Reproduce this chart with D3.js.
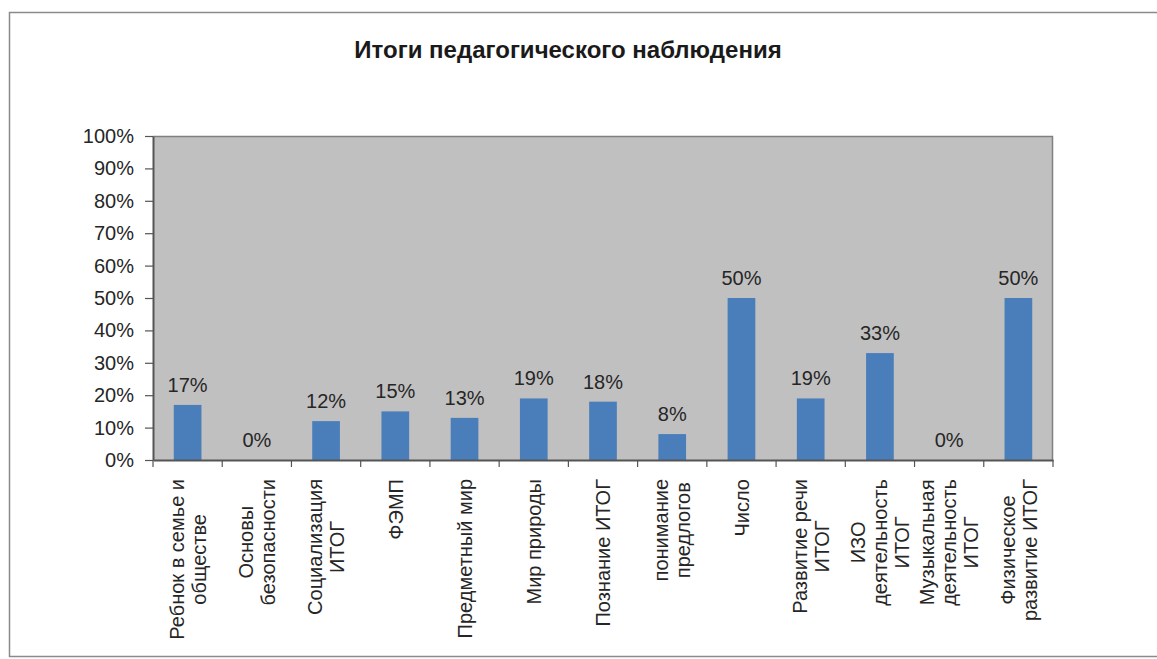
<!DOCTYPE html>
<html>
<head>
<meta charset="utf-8">
<script src="https://cdn.jsdelivr.net/npm/d3@7/dist/d3.min.js"></script>
<style>
  html, body { margin: 0; padding: 0; background: #fff; }
  svg { display: block; }
  text { font-family: "Liberation Sans", Arial, sans-serif; fill: #262626; }
</style>
</head>
<body>
<svg id="chart" width="1157" height="659"></svg>
<script>
const title = "Итоги педагогического наблюдения";
const categories = [
  ["Ребнок в семье и", "обществе"],
  ["Основы", "безопасности"],
  ["Социализация", "ИТОГ"],
  ["ФЭМП"],
  ["Предметный мир"],
  ["Мир природы"],
  ["Познание ИТОГ"],
  ["понимание", "предлогов"],
  ["Число"],
  ["Развитие речи", "ИТОГ"],
  ["ИЗО", "деятельность", "ИТОГ"],
  ["Музыкальная", "деятельность", "ИТОГ"],
  ["Физическое", "развитие ИТОГ"]
];
const values = [0.17, 0.00, 0.12, 0.15, 0.13, 0.19, 0.18, 0.08, 0.50, 0.19, 0.33, 0.00, 0.50];
const yTicks = [0, 0.1, 0.2, 0.3, 0.4, 0.5, 0.6, 0.7, 0.8, 0.9, 1.0];

const svg = d3.select("#chart");
const plot = { left: 153, right: 1053, top: 136, bottom: 460 };
const fs = "20px";

// Outer frame
svg.append("rect")
  .attr("x", 9.5).attr("y", 12.5)
  .attr("width", 1170).attr("height", 644)
  .attr("fill", "#fff").attr("stroke", "#8a8a8a").attr("stroke-width", 1.5);

// Title
svg.append("text")
  .attr("x", 568).attr("y", 58)
  .attr("text-anchor", "middle")
  .style("font-size", "24px").style("font-weight", "bold")
  .style("fill", "#1a1a1a")
  .text(title);

const x = d3.scaleBand()
  .domain(d3.range(categories.length))
  .range([plot.left, plot.right])
  .padding(0);

const y = d3.scaleLinear()
  .domain([0, 1])
  .range([plot.bottom, plot.top]);

// Plot area background
svg.append("rect")
  .attr("x", plot.left).attr("y", plot.top)
  .attr("width", plot.right - plot.left).attr("height", plot.bottom - plot.top)
  .attr("fill", "#c0c0c0");

// Plot border top & right
svg.append("path")
  .attr("d", `M${plot.left},${plot.top + 0.5}H${plot.right - 0.5}V${plot.bottom}`)
  .attr("fill", "none").attr("stroke", "#808080").attr("stroke-width", 1.5);

// Bars
const bw = x.bandwidth() * 0.4;
svg.append("g").selectAll("rect")
  .data(values)
  .join("rect")
  .attr("x", (d, i) => x(i) + x.bandwidth() / 2 - bw / 2)
  .attr("y", d => y(d))
  .attr("width", bw)
  .attr("height", d => y(0) - y(d))
  .attr("fill", "#4a7ebb");

// Y axis
const yAxis = svg.append("g")
  .attr("transform", `translate(${plot.left},0)`)
  .call(d3.axisLeft(y).tickValues(yTicks).tickFormat(d3.format(".0%")).tickSize(8).tickSizeOuter(0).tickPadding(11));
yAxis.select(".domain").attr("stroke", "#555").attr("stroke-width", 2);
yAxis.selectAll(".tick line").attr("stroke", "#555").attr("stroke-width", 1.2);
yAxis.selectAll(".tick text")
  .style("font-size", fs).style("font-family", "'Liberation Sans', Arial, sans-serif")
  .attr("fill", "#262626");

// X axis line
const xAxis = svg.append("g")
  .attr("transform", `translate(0,${plot.bottom})`)
  .call(d3.axisBottom(x).tickSize(0).tickFormat(() => "").tickSizeOuter(0));
xAxis.select(".domain").attr("stroke", "#555").attr("stroke-width", 2);
xAxis.selectAll(".tick").remove();

// Boundary ticks
const bounds = d3.range(categories.length).map(i => x(i)).concat([plot.right]);
svg.append("g").selectAll("line")
  .data(bounds)
  .join("line")
  .attr("x1", d => d).attr("x2", d => d)
  .attr("y1", plot.bottom).attr("y2", plot.bottom + 7)
  .attr("stroke", "#555").attr("stroke-width", 1.2);

// Data labels
svg.append("g").selectAll("text")
  .data(values)
  .join("text")
  .attr("x", (d, i) => x(i) + x.bandwidth() / 2)
  .attr("y", d => y(d) - 13)
  .attr("text-anchor", "middle")
  .style("font-size", fs)
  .text(d => d3.format(".0%")(d));

// Category labels (rotated, multi-line, centered block, top aligned)
const lineH = 22;
const labelTop = 479;
const catG = svg.append("g");
categories.forEach((lines, i) => {
  const cx = x(i) + x.bandwidth() / 2;
  const g = catG.append("g");
  const texts = lines.map(ln => g.append("text")
    .attr("text-anchor", "middle")
    .style("font-size", fs)
    .text(ln));
  const maxW = d3.max(texts, t => t.node().getComputedTextLength());
  const cy = labelTop + maxW / 2;
  const n = lines.length;
  texts.forEach((t, j) => {
    const off = (j - (n - 1) / 2) * lineH;
    t.attr("transform", `translate(${cx + off},${cy}) rotate(-90)`)
     .attr("dy", "0.36em");
  });
});
</script>
</body>
</html>
